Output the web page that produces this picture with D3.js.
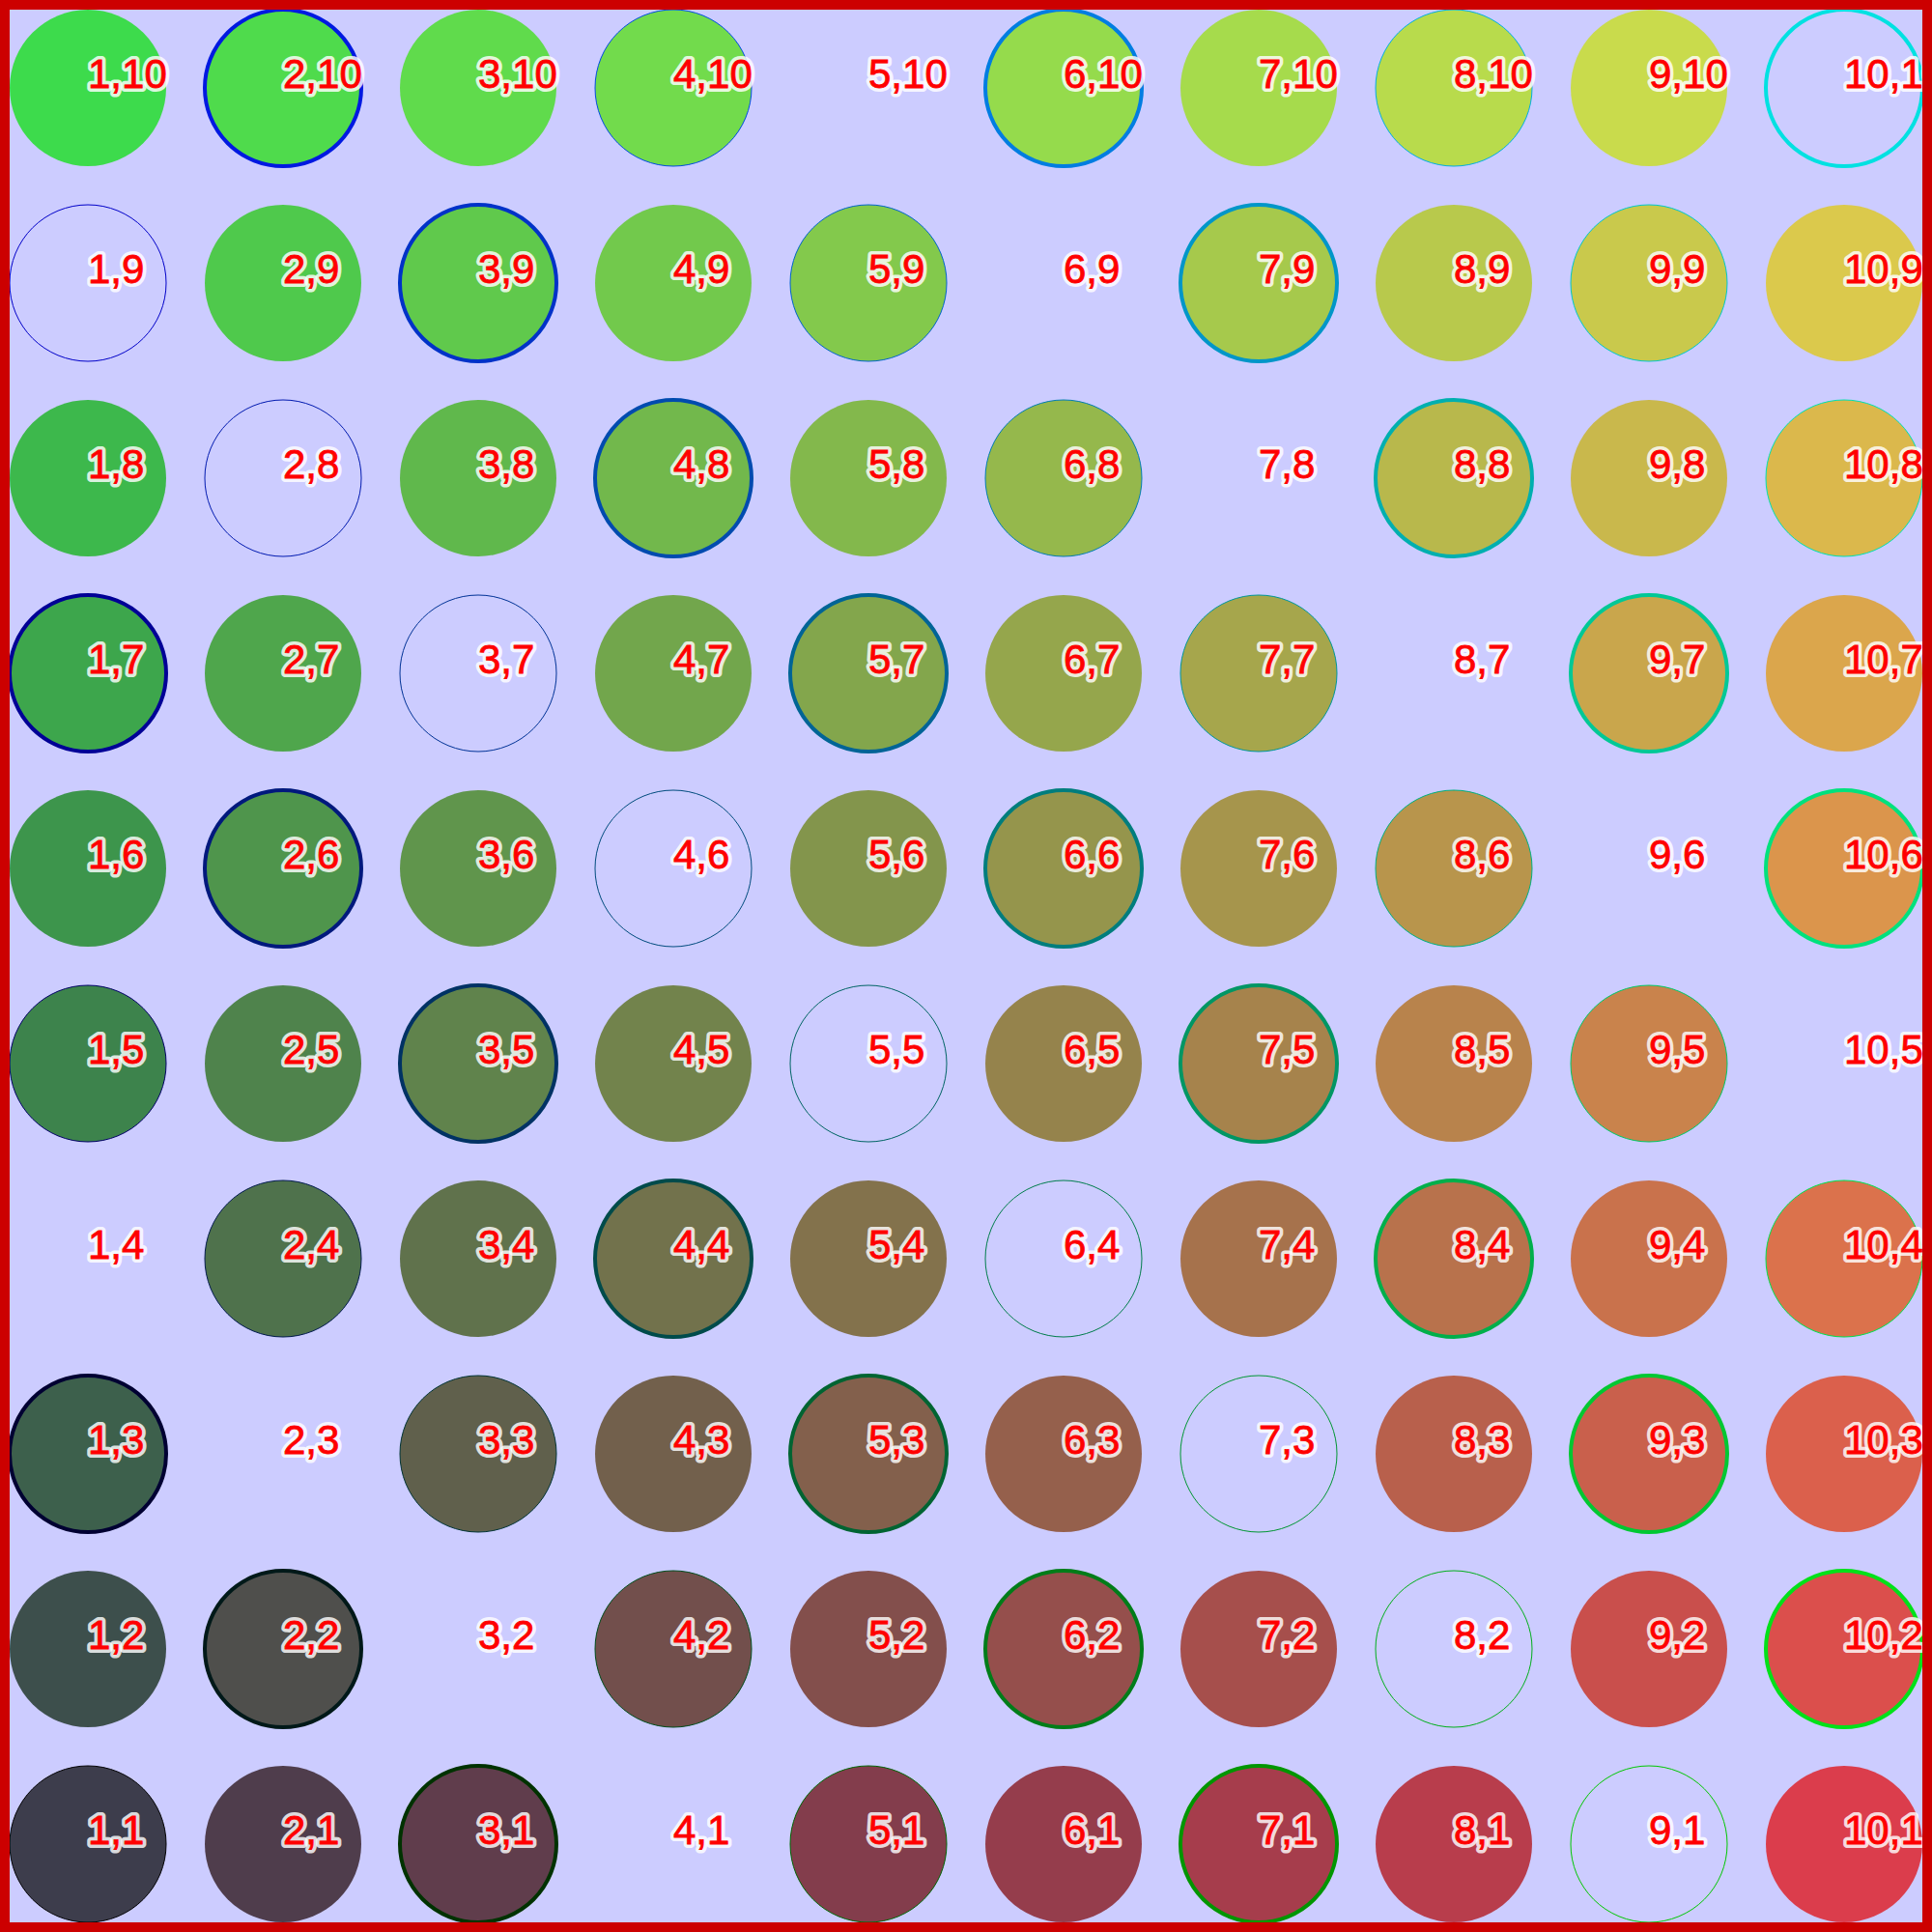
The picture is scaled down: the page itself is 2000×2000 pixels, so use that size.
<!DOCTYPE html>
<html>
<head>
<meta charset="utf-8">
<script src="https://cdn.jsdelivr.net/npm/d3@7"></script>
<style>
  html, body { margin: 0; padding: 0; background: #ffffff; }
  svg { display: block; }
</style>
</head>
<body>
<svg id="chart" width="2000" height="2000"></svg>
<script>
// ---- data ----
const columns = [1, 2, 3, 4, 5, 6, 7, 8, 9, 10];   // i (x)
const rows    = [1, 2, 3, 4, 5, 6, 7, 8, 9, 10];   // j (y)

// fill colour components (red by column, green by row)
const fillRed   = [0, 25, 50, 75, 100, 125, 150, 175, 200, 225];
const fillGreen = [0, 25, 50, 75, 100, 125, 150, 175, 200, 225];
// stroke colour components (green by column, blue by row)
const strokeGreen = [0, 25, 50, 75, 100, 125, 150, 175, 200, 225];
const strokeBlue  = [0, 25, 50, 75, 100, 125, 150, 175, 200, 225];

// cell kinds, listed from row j=10 (top) down to j=1, columns i=1..10
// F = filled, no outline; T = filled, thick outline; t = filled, thin outline
// O = outline only (thin); W = outline only (thick); - = nothing drawn
const cellKinds = [
  ["F","T","F","t","-","T","F","t","F","W"], // j=10
  ["O","F","T","F","t","-","T","F","t","F"], // j=9
  ["F","O","F","T","F","t","-","T","F","t"], // j=8
  ["T","F","O","F","T","F","t","-","T","F"], // j=7
  ["F","T","F","O","F","T","F","t","-","T"], // j=6
  ["t","F","T","F","O","F","T","F","t","-"], // j=5
  ["-","t","F","T","F","O","F","T","F","t"], // j=4
  ["T","-","t","F","T","F","O","F","T","F"], // j=3
  ["F","T","-","t","F","T","F","O","F","T"], // j=2
  ["t","F","T","-","t","F","T","F","O","F"]  // j=1
];

// ---- layout / styles ----
const W = 2000, H = 2000, B = 10;
const R = 81;
const kindStyle = {
  "F": {fill: true,  sw: 0},
  "T": {fill: true,  sw: 4},
  "t": {fill: true,  sw: 1},
  "O": {fill: false, sw: 1},
  "W": {fill: false, sw: 4},
  "-": {fill: false, sw: 0}
};

const svg = d3.select("#chart");
svg.append("rect").attr("x", 0).attr("y", 0).attr("width", W).attr("height", H)
   .attr("fill", "#ccccff");

const x = d3.scaleLinear().domain([1, 10]).range([B + R, W - B - R]);
const y = d3.scaleLinear().domain([1, 10]).range([H - B - R, B + R]);

const cells = [];
rows.slice().reverse().forEach((j, ri) => {
  columns.forEach((i, ci) => {
    cells.push({i, j, kind: cellKinds[ri][ci]});
  });
});

svg.append("g").selectAll("circle").data(cells).join("circle")
  .attr("cx", d => x(d.i))
  .attr("cy", d => y(d.j))
  .attr("r", R)
  .attr("fill", d => kindStyle[d.kind].fill
      ? `rgb(${fillRed[d.i-1]},${fillGreen[d.j-1]},0)` : "none")
  .attr("fill-opacity", 0.7)
  .attr("stroke", d => kindStyle[d.kind].sw > 0
      ? `rgb(0,${strokeGreen[d.i-1]},${strokeBlue[d.j-1]})` : "none")
  .attr("stroke-width", d => kindStyle[d.kind].sw);

// label halo
svg.append("g").selectAll("text").data(cells).join("text")
  .attr("x", d => x(d.i))
  .attr("y", d => y(d.j))
  .attr("font-family", "Liberation Sans, Arial, sans-serif")
  .attr("font-size", 42)
  .attr("fill", "none")
  .attr("stroke", "#ffffff")
  .attr("stroke-opacity", 0.82)
  .attr("stroke-width", 8)
  .attr("stroke-linejoin", "round")
  .text(d => `${d.i},${d.j}`);

// label text
svg.append("g").selectAll("text").data(cells).join("text")
  .attr("x", d => x(d.i))
  .attr("y", d => y(d.j))
  .attr("font-family", "Liberation Sans, Arial, sans-serif")
  .attr("font-size", 42)
  .attr("fill", "#ff0000")
  .attr("stroke", "#ff0000")
  .attr("stroke-width", 0.8)
  .text(d => `${d.i},${d.j}`);

// border frame on top
svg.append("rect").attr("x", B/2).attr("y", B/2)
   .attr("width", W - B).attr("height", H - B)
   .attr("fill", "none").attr("stroke", "#cc0000").attr("stroke-width", B);
</script>
</body>
</html>
